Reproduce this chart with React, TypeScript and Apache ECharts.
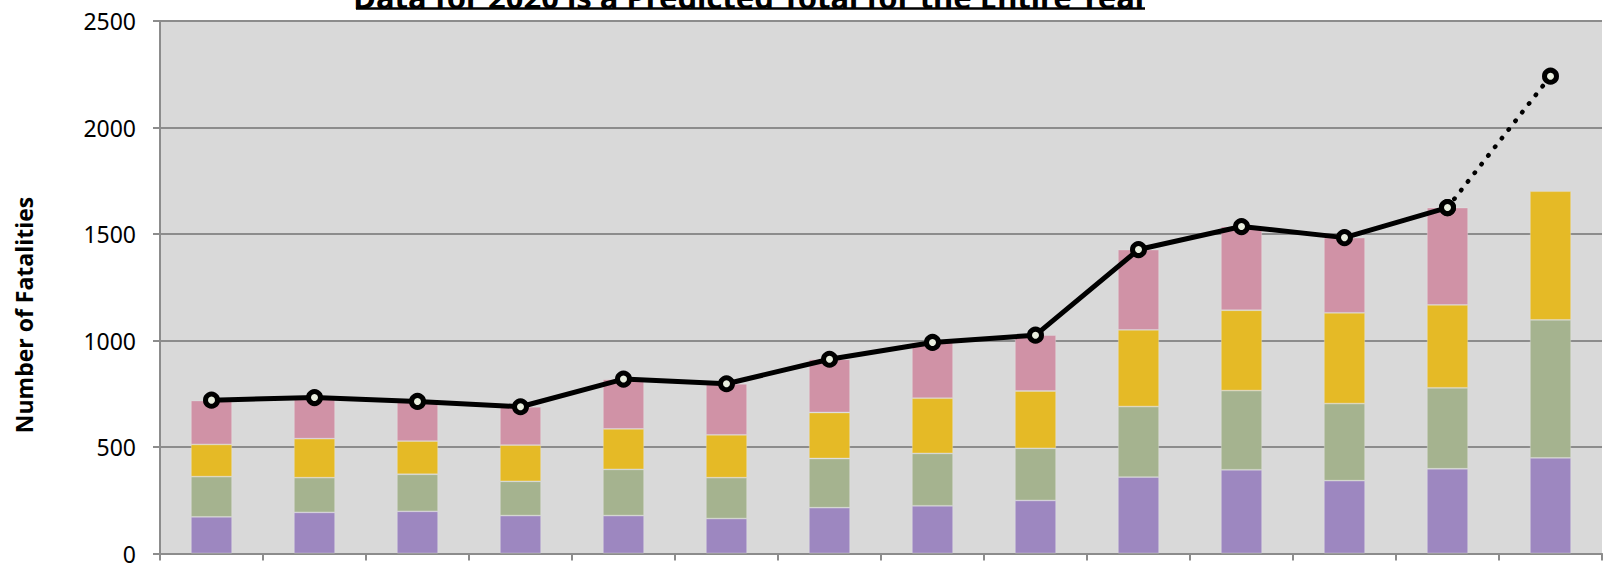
import React, { useEffect, useRef } from "react";
import * as echarts from "echarts";

const years = ["2007", "2008", "2009", "2010", "2011", "2012", "2013", "2014", "2015", "2016", "2017", "2018", "2019", "2020"];
const purpleVals = [172, 193, 198, 178, 178, 164, 215, 224, 249, 359, 393, 342, 398, 449];
const greenVals = [189, 163, 174, 161, 217, 192, 231, 246, 245, 331, 372, 362, 380, 648];
const yellowVals = [151, 183, 156, 170, 190, 201, 216, 259, 269, 360, 377, 426, 389, 604];
const pinkVals: (number | null)[] = [206, 193, 186, 180, 233, 240, 250, 262, 262, 377, 393, 353, 457, null];
const totalActual: (number | null)[] = [720, 732, 714, 689, 819, 797, 912, 991, 1025, 1427, 1535, 1483, 1624, null];
const totalPredicted: (number | null)[] = [null, null, null, null, null, null, null, null, null, null, null, null, 1624, 2241];
const yTicks = { min: 0, max: 2500, interval: 500 };
const titleText = "Data for 2020 is a Predicted Total for the Entire Year";
const yAxisTitle = "Number of Fatalities";

const GRID_LEFT = 160;
const GRID_TOP = 21;
const GRID_BOTTOM = 6;
const GRID_RIGHT = 2;

export default function App() {
  const ref = useRef<HTMLDivElement>(null);
  useEffect(() => {
    if (!ref.current) return;
    const chart = echarts.init(ref.current, null, { renderer: "svg" });
    const barBorder = { borderColor: "rgba(232,232,232,0.4)", borderWidth: 0.8 };
    const mkBar = (name: string, data: (number | null)[], color: string) => ({
      name,
      type: "bar",
      stack: "total",
      data,
      barWidth: "40%",
      itemStyle: { color, ...barBorder },
      z: 2,
    });
    chart.setOption({
      animation: false,
      grid: {
        left: GRID_LEFT,
        right: GRID_RIGHT,
        top: GRID_TOP,
        bottom: GRID_BOTTOM,
        show: true,
        backgroundColor: "#D9D9D9",
        borderWidth: 0,
      },
      xAxis: {
        type: "category",
        data: years,
        boundaryGap: true,
        axisLine: { show: true, lineStyle: { color: "#8C8C8C", width: 2 } },
        axisTick: { show: true, interval: 0, length: 7, lineStyle: { color: "#8C8C8C", width: 2 } },
        axisLabel: { show: false },
        splitLine: { show: false },
      },
      yAxis: {
        type: "value",
        min: yTicks.min,
        max: yTicks.max,
        interval: yTicks.interval,
        axisLine: { show: true, lineStyle: { color: "#8C8C8C", width: 2 } },
        axisTick: { show: true, length: 7, lineStyle: { color: "#8C8C8C", width: 2 } },
        axisLabel: {
          color: "#000",
          fontFamily: "Noto Sans",
          fontSize: 23,
          margin: 24,
          formatter: (v: number) => String(v),
        },
        splitLine: { show: true, lineStyle: { color: "#8C8C8C", width: 2 } },
      },
      graphic: [
        {
          type: "text",
          x: 751,
          y: 12,
          style: {
            text: titleText,
            fontFamily: "Noto Sans",
            fontWeight: "bold",
            fontSize: 31,
            fill: "#000",
            align: "center",
            verticalAlign: "bottom",
          },
        },
        {
          type: "line",
          shape: { x1: 356, y1: 8.5, x2: 1145, y2: 8.5 },
          style: { stroke: "#000", lineWidth: 2.5 },
        },
        {
          type: "text",
          x: 24,
          y: 315,
          rotation: Math.PI / 2,
          style: {
            text: yAxisTitle,
            fontFamily: "Open Sans",
            fontWeight: "bold",
            fontSize: 23,
            fill: "#000",
            align: "center",
            verticalAlign: "middle",
          },
        },
      ],
      series: [
        mkBar("Segment 1", purpleVals, "#9D87C0"),
        mkBar("Segment 2", greenVals, "#A5B38F"),
        mkBar("Segment 3", yellowVals, "#E5BA26"),
        mkBar("Segment 4", pinkVals, "#D092A6"),
        {
          name: "Predicted Total",
          type: "line",
          data: totalPredicted,
          symbol: "circle",
          symbolSize: 12,
          itemStyle: { color: "#E9EEDF", borderColor: "#000", borderWidth: 5 },
          lineStyle: { color: "#000", width: 4.5, type: [0.5, 10.5], cap: "round" },
          z: 3,
        },
        {
          name: "Total",
          type: "line",
          data: totalActual,
          symbol: "circle",
          symbolSize: 12,
          itemStyle: { color: "#E9EEDF", borderColor: "#000", borderWidth: 5 },
          lineStyle: { color: "#000", width: 5 },
          z: 4,
        },
      ],
    });
    return () => chart.dispose();
  }, []);
  return (
    <div
      ref={ref}
      style={{ position: "absolute", left: 0, top: 0, width: 1604, height: 565 }}
    />
  );
}
